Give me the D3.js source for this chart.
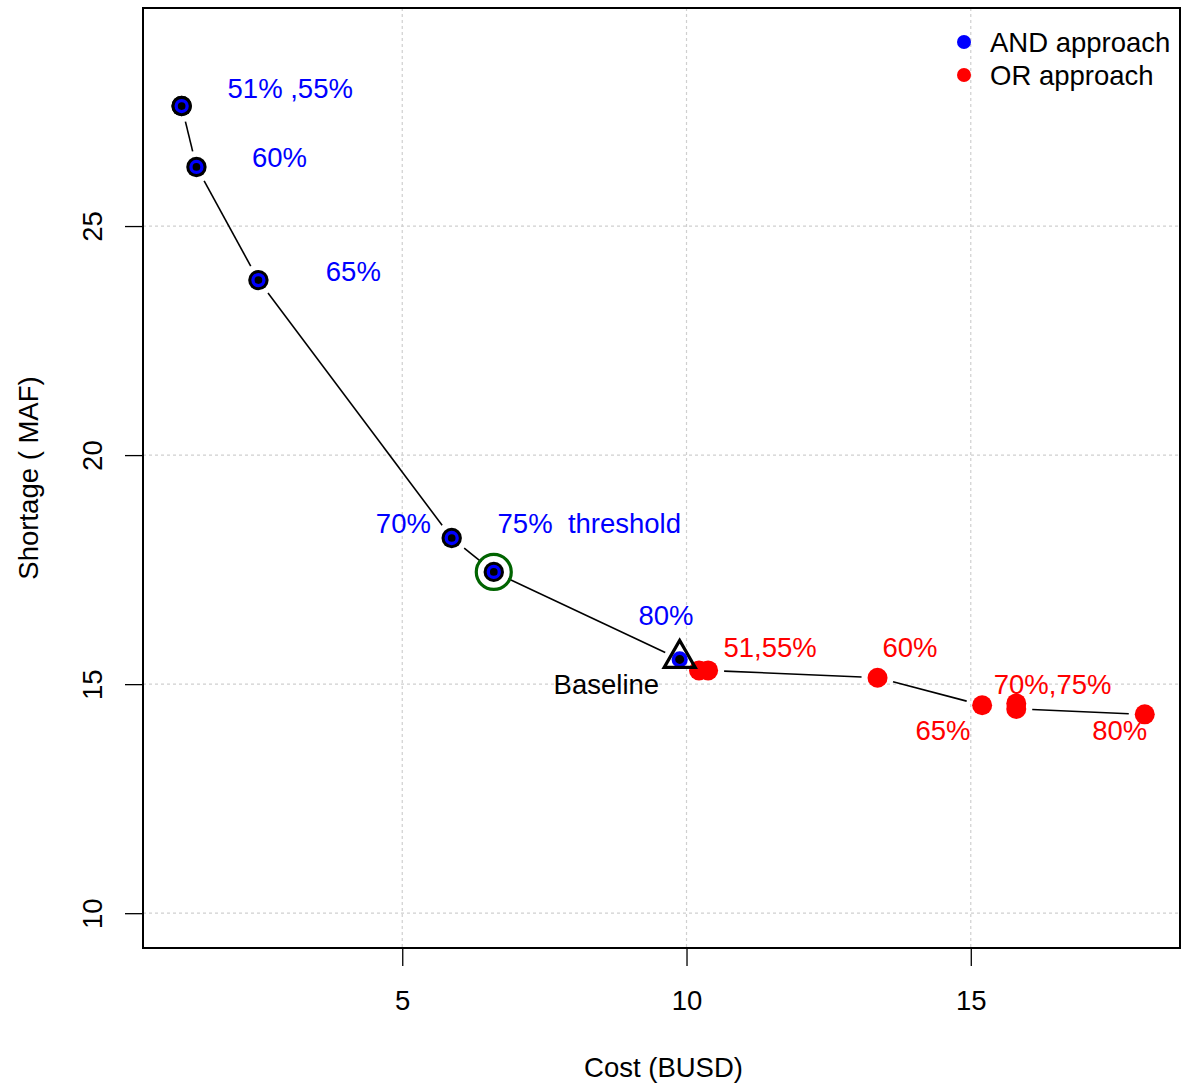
<!DOCTYPE html>
<html>
<head>
<meta charset="utf-8">
<script src="https://cdn.jsdelivr.net/npm/d3@7"></script>
<style>
  html, body { margin: 0; padding: 0; background: #fff; }
  svg { display: block; font-family: "Liberation Sans", Arial, sans-serif; }
</style>
</head>
<body>
<svg id="chart" width="1181" height="1085"></svg>
<script>
// ---- data ----
const andLevels = ["51%", "55%", "60%", "65%", "70%", "75%", "80%"];
const andCost = [1.12, 1.12, 1.38, 2.47, 5.87, 6.61, 9.88];
const andShortage = [27.62, 27.62, 26.29, 23.82, 18.19, 17.45, 15.54];

const orLevels = ["51%", "55%", "60%", "65%", "70%", "75%", "80%"];
const orCost = [10.22, 10.38, 13.36, 15.20, 15.80, 15.80, 18.06];
const orShortage = [15.30, 15.30, 15.14, 14.54, 14.58, 14.46, 14.34];

const xTicks = [5, 10, 15];
const yTicks = [10, 15, 20, 25];

// annotation labels (text, cost, shortage, colour)
const labelText = ["51% ,55%", "60%", "65%", "70%", "75%  threshold", "80%", "Baseline",
                   "51,55%", "60%", "70%,75%", "65%", "80%"];
const labelCost = [3.03, 2.84, 4.14, 5.02, 8.29, 9.64, 8.59, 11.47, 13.93, 16.44, 14.51, 17.62];
const labelShortage = [28.0, 26.5, 24.0, 18.5, 18.5, 16.5, 15.0, 15.8, 15.8, 15.0, 14.0, 14.0];
const labelColor = ["blue", "blue", "blue", "blue", "blue", "blue", "black",
                    "red", "red", "red", "red", "red"];

const thresholdIndex = 5;   // 75% AND point circled
const baselineIndex = 6;    // 80% AND point marked as baseline

const legendNames = ["AND approach", "OR approach"];
const legendColors = ["blue", "red"];

// ---- layout ----
const svg = d3.select("#chart");
const pLeft = 143, pRight = 1180, pTop = 8, pBottom = 948;
const FS = 27.5;

const x = d3.scaleLinear().domain([0.44, 18.68]).range([pLeft, pRight]);
const y = d3.scaleLinear().domain([9.24, 29.76]).range([pBottom, pTop]);

// grid
const grid = svg.append("g");
grid.selectAll("line.v").data(xTicks).join("line").attr("class", "v")
  .attr("x1", d => x(d)).attr("x2", d => x(d))
  .attr("y1", pTop).attr("y2", pBottom)
  .attr("stroke", "#cfcfcf").attr("stroke-width", 1.2).attr("stroke-dasharray", "3,3");
grid.selectAll("line.h").data(yTicks).join("line").attr("class", "h")
  .attr("y1", d => y(d)).attr("y2", d => y(d))
  .attr("x1", pLeft).attr("x2", pRight)
  .attr("stroke", "#cfcfcf").attr("stroke-width", 1.2).attr("stroke-dasharray", "3,3");

// axes
const xAxis = d3.axisBottom(x).tickValues(xTicks).tickSize(18).tickFormat(d3.format("d"));
const gx = svg.append("g").attr("transform", `translate(0,${pBottom})`).call(xAxis);
gx.select(".domain").remove();
gx.selectAll("line").attr("stroke", "#000").attr("stroke-width", 1.3);
gx.selectAll("text").attr("font-size", FS).attr("fill", "#000")
  .attr("font-family", "Liberation Sans, Arial, sans-serif")
  .attr("y", 52).attr("dy", "0.35em");

const yAxis = d3.axisLeft(y).tickValues(yTicks).tickSize(18).tickFormat(d3.format("d"));
const gy = svg.append("g").attr("transform", `translate(${pLeft},0)`).call(yAxis);
gy.select(".domain").remove();
gy.selectAll("line").attr("stroke", "#000").attr("stroke-width", 1.3);
gy.selectAll("text")
  .attr("font-size", FS).attr("fill", "#000")
  .attr("font-family", "Liberation Sans, Arial, sans-serif")
  .attr("x", null)
  .attr("text-anchor", "middle")
  .attr("transform", "translate(-51,0) rotate(-90)")
  .attr("dy", "0.35em");

// frame
svg.append("rect").attr("x", pLeft).attr("y", pTop)
  .attr("width", pRight - pLeft).attr("height", pBottom - pTop)
  .attr("fill", "none").attr("stroke", "#000").attr("stroke-width", 2);

// axis titles
svg.append("text").attr("x", (pLeft + pRight) / 2 + 2).attr("y", 1067).attr("dy", "0.35em")
  .attr("text-anchor", "middle").attr("font-size", FS).text("Cost (BUSD)");
svg.append("text").attr("transform", `translate(28,${(pTop + pBottom) / 2}) rotate(-90)`)
  .attr("dy", "0.35em").attr("text-anchor", "middle").attr("font-size", FS).text("Shortage ( MAF)");

// lines with gaps around points (type = "b")
function gappedLine(xs, ys, gap) {
  const g = svg.append("g");
  for (let i = 0; i < xs.length - 1; i++) {
    const x1 = x(xs[i]), y1 = y(ys[i]), x2 = x(xs[i + 1]), y2 = y(ys[i + 1]);
    const L = Math.hypot(x2 - x1, y2 - y1);
    if (L <= 2 * gap + 3) continue;
    const ux = (x2 - x1) / L, uy = (y2 - y1) / L;
    g.append("line")
      .attr("x1", x1 + ux * gap).attr("y1", y1 + uy * gap)
      .attr("x2", x2 - ux * gap).attr("y2", y2 - uy * gap)
      .attr("stroke", "#000").attr("stroke-width", 1.6);
  }
}
gappedLine(andCost, andShortage, 16);
gappedLine(orCost, orShortage, 16);

// OR points
svg.append("g").selectAll("circle").data(orCost).join("circle")
  .attr("cx", d => x(d)).attr("cy", (d, i) => y(orShortage[i]))
  .attr("r", 10).attr("fill", "red");

// AND points
const andG = svg.append("g");
andCost.forEach((c, i) => {
  const isBase = i === baselineIndex;
  if (!isBase) {
    andG.append("circle").attr("cx", x(c)).attr("cy", y(andShortage[i])).attr("r", 10.2).attr("fill", "#000");
  }
  andG.append("circle").attr("cx", x(c)).attr("cy", y(andShortage[i])).attr("r", isBase ? 6.3 : 5.5)
    .attr("fill", "#000").attr("stroke", "blue").attr("stroke-width", isBase ? 3.6 : 3.3);
});

// threshold circle
svg.append("circle").attr("cx", x(andCost[thresholdIndex])).attr("cy", y(andShortage[thresholdIndex]))
  .attr("r", 17.5).attr("fill", "none").attr("stroke", "#006400").attr("stroke-width", 3.2);

// baseline triangle
{
  const cx = x(andCost[baselineIndex]), cy = y(andShortage[baselineIndex]);
  const pts = [[cx, cy - 19], [cx - 15.5, cy + 8], [cx + 15.5, cy + 8]];
  svg.append("path").attr("d", d3.line()(pts) + "Z")
    .attr("fill", "none").attr("stroke", "#000").attr("stroke-width", 3.2).attr("stroke-linejoin", "miter");
}

// annotation labels
svg.append("g").selectAll("text").data(labelText).join("text")
  .attr("x", (d, i) => x(labelCost[i])).attr("y", (d, i) => y(labelShortage[i]))
  .attr("dy", "0.35em").attr("text-anchor", "middle")
  .attr("font-size", FS).attr("fill", (d, i) => labelColor[i])
  .style("white-space", "pre")
  .text(d => d);

// legend (top right)
const leg = svg.append("g");
legendNames.forEach((n, i) => {
  const ly = 42 + i * 33;
  leg.append("circle").attr("cx", 964).attr("cy", ly).attr("r", 7).attr("fill", legendColors[i]);
  leg.append("text").attr("x", 990).attr("y", ly).attr("dy", "0.35em")
    .attr("font-size", FS).attr("fill", "#000").text(n);
});
</script>
</body>
</html>
